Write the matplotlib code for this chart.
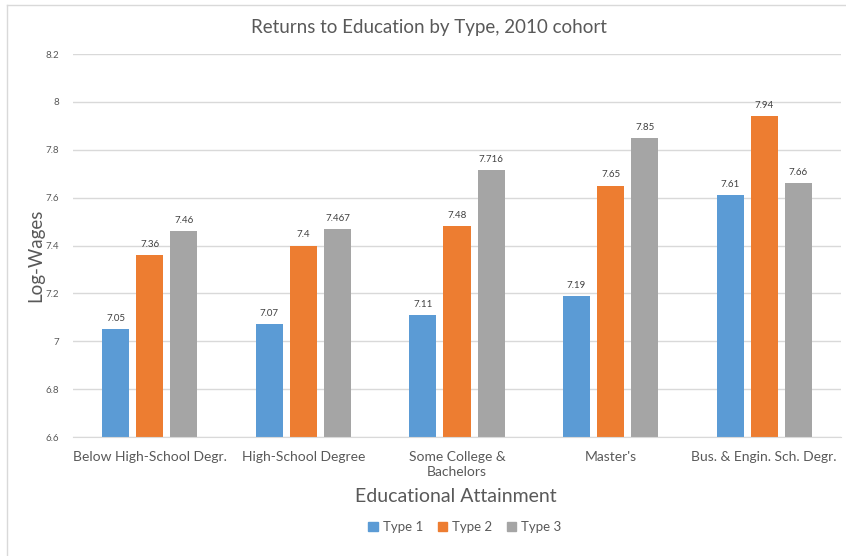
import matplotlib
matplotlib.use("Agg")
import matplotlib.pyplot as plt
import numpy as np
from matplotlib.lines import Line2D

categories = ["Below High-School Degr.", "High-School Degree", "Some College &\nBachelors",
              "Master's", "Bus. & Engin. Sch. Degr."]
series_names = ["Type 1", "Type 2", "Type 3"]
type1 = [7.05, 7.07, 7.11, 7.19, 7.61]
type2 = [7.36, 7.4, 7.48, 7.65, 7.94]
type3 = [7.46, 7.467, 7.716, 7.85, 7.66]
colors = ["#5B9BD5", "#ED7D31", "#A5A5A5"]
yticks = [6.6, 6.8, 7.0, 7.2, 7.4, 7.6, 7.8, 8.0, 8.2]
ytick_labels = ["6.6", "6.8", "7", "7.2", "7.4", "7.6", "7.8", "8", "8.2"]

plt.rcParams['font.family'] = ['Lato', 'DejaVu Sans']
txt = "#595959"

W, H = 846, 556
fig = plt.figure(figsize=(W/100, H/100), dpi=100)
ax = fig.add_axes([73/W, 1-437/H, (841-73)/W, (437-54)/H])

x = np.arange(len(categories))
w = 0.176
off = 0.222
for i, (vals, name, c) in enumerate(zip([type1, type2, type3], series_names, colors)):
    bars = ax.bar(x + (i-1)*off, [v - 6.6 for v in vals], bottom=6.6, width=w, color=c,
                  label=name, zorder=3)
    for b, v in zip(bars, vals):
        ax.annotate(f"{v:g}", (b.get_x() + b.get_width()/2, v), xytext=(0, 4.5),
                    textcoords="offset points", ha="center", va="bottom",
                    fontsize=7, color="#404040")

ax.set_ylim(6.6, 8.2)
ax.set_xlim(-0.5, len(categories)-0.5)
ax.set_yticks(yticks)
ax.set_yticklabels(ytick_labels, fontsize=7, color=txt)
ax.set_xticks(x)
ax.set_xticklabels(categories, fontsize=10, color=txt, linespacing=1.3)
ax.tick_params(axis='both', length=0)
ax.tick_params(axis='y', pad=10)
ax.tick_params(axis='x', pad=10)
ax.grid(axis='y', color="#D9D9D9", linewidth=1, zorder=0)
for s in ["top", "right", "left"]:
    ax.spines[s].set_visible(False)
ax.spines["bottom"].set_color("#D9D9D9")
ax.spines["bottom"].set_zorder(4)

fig.text(36/W, 1-255/H, "Log-Wages", ha="center", va="center", rotation=90,
         fontsize=13.5, color=txt)
fig.text(456/W, 1-497/H, "Educational Attainment", ha="center", va="center",
         fontsize=14, color=txt)
fig.text(429/W, 1-28/H, "Returns to Education by Type, 2010 cohort", ha="center",
         va="center", fontsize=13.5, color=txt)

handles = [plt.Rectangle((0, 0), 1, 1, color=c) for c in colors]
fig.legend(handles, series_names, loc="center", bbox_to_anchor=(465/W, 1-527/H), ncol=3,
           frameon=False, fontsize=9.5, handlelength=0.7, handleheight=0.7,
           handletextpad=0.4, columnspacing=1.1, labelcolor=txt)

fig.add_artist(Line2D([7/W, 7/W], [0, 1-5/H], transform=fig.transFigure, color="#D9D9D9", lw=1))
fig.add_artist(Line2D([7/W, 1], [1-5/H, 1-5/H], transform=fig.transFigure, color="#D9D9D9", lw=1))

fig.savefig("out.png", dpi=100)
